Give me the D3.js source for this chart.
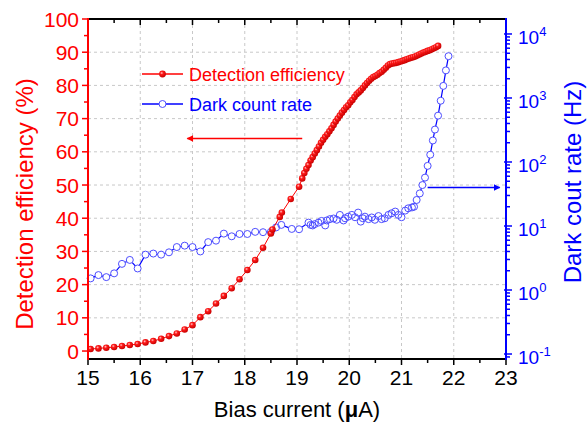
<!DOCTYPE html>
<html>
<head>
<meta charset="utf-8">
<script src="https://cdn.jsdelivr.net/npm/d3@7"></script>
<style>
  body { margin: 0; background: #fff; }
  svg { display: block; font-family: Arial, "Liberation Sans", sans-serif; }
</style>
</head>
<body>
<div id="chart"></div>
<script>
// detection efficiency (%) vs bias current (uA)
const biasDE = [15.05, 15.20, 15.35, 15.50, 15.65, 15.80, 15.95, 16.10, 16.25, 16.40,
    16.55, 16.70, 16.85, 17.00, 17.15, 17.30, 17.45, 17.60, 17.75, 17.90,
    18.05, 18.20, 18.35, 18.50, 18.53, 18.67, 18.71, 18.88, 19.04,
    19.10, 19.14, 19.18, 19.22, 19.26, 19.30, 19.34, 19.38, 19.42, 19.46,
    19.50, 19.54, 19.58, 19.62, 19.66, 19.70, 19.74, 19.78, 19.82, 19.86,
    19.90, 19.94, 19.98, 20.02, 20.06, 20.10, 20.14, 20.18, 20.22, 20.26,
    20.30, 20.34, 20.38, 20.42, 20.46, 20.50, 20.54, 20.58, 20.62, 20.66,
    20.70, 20.74, 20.78, 20.82, 20.86, 20.90, 20.94, 20.98, 21.02, 21.06,
    21.10, 21.14, 21.18, 21.22, 21.26, 21.30, 21.34, 21.38, 21.42, 21.46,
    21.50, 21.54, 21.58, 21.62, 21.66, 21.70];
const detEff = [0.6, 0.8, 1.0, 1.2, 1.5, 1.8, 2.1, 2.6, 3.0, 3.7,
    4.5, 5.3, 6.5, 7.8, 10.2, 12.0, 14.3, 16.6, 18.9, 21.6,
    24.4, 27.4, 31.1, 35.4, 36.6, 40.4, 41.7, 45.8, 49.5,
    52.0, 53.6, 54.9, 56.0, 57.4, 58.4, 59.5, 60.5, 61.6, 62.7,
    63.6, 64.5, 65.3, 66.2, 67.1, 68.1, 69.1, 70.0, 70.9, 71.8,
    72.6, 73.4, 74.0, 74.9, 75.6, 76.5, 77.3, 77.9, 78.5, 79.2,
    80.0, 80.7, 81.4, 82.0, 82.5, 82.8, 83.2, 83.7, 84.1, 84.7,
    85.3, 86.0, 86.4, 86.6, 86.7, 86.8, 87.0, 87.2, 87.4, 87.6,
    87.9, 88.1, 88.3, 88.5, 88.7, 89.0, 89.3, 89.6, 89.9, 90.1,
    90.4, 90.6, 90.9, 91.2, 91.5, 91.9];

// dark count rate (Hz) vs bias current (uA)
const biasDCR = [15.05, 15.20, 15.35, 15.50, 15.65, 15.80, 15.95, 16.10, 16.25, 16.40,
    16.55, 16.70, 16.85, 17.00, 17.15, 17.30, 17.45, 17.60, 17.75, 17.90,
    18.05, 18.20, 18.35, 18.50, 18.60, 18.70, 18.90, 19.04,
    19.22, 19.26, 19.30, 19.34, 19.41, 19.47, 19.54, 19.57, 19.63, 19.70,
    19.76, 19.82, 19.89, 19.92, 19.98, 20.05, 20.11, 20.17, 20.22, 20.26,
    20.30, 20.37, 20.43, 20.49, 20.56, 20.62, 20.68, 20.75, 20.81, 20.88,
    20.94, 21.00, 21.07, 21.13, 21.20, 21.24, 21.29,
    21.35, 21.40, 21.45, 21.50, 21.55, 21.60, 21.64, 21.70, 21.75, 21.80,
    21.85, 21.90];
const darkCount = [1.52, 1.71, 1.59, 1.82, 2.56, 2.95, 2.17, 3.57, 3.71, 3.57,
    3.88, 4.69, 4.93, 4.69, 4.0, 5.6, 5.9, 7.6, 6.9, 7.5,
    7.5, 8.1, 8.0, 8.1, 9.5, 10.4, 9.0, 8.9,
    11.3, 10.4, 10.2, 10.7, 11.3, 12.0, 10.2, 12.2, 12.8, 13.1,
    12.5, 14.9, 12.2, 13.2, 14.0, 14.9, 13.7, 16.2, 11.7, 13.2,
    14.0, 12.8, 13.6, 12.5, 14.3, 12.8, 13.2, 14.9, 15.8, 16.8,
    14.9, 13.7, 17.4, 18.9, 19.5, 20.0, 25.5,
    32.3, 43.6, 57, 87, 130, 217, 321, 530, 906, 1545,
    2700, 4500];

const biasTicks = [15, 16, 17, 18, 19, 20, 21, 22, 23];
const effTicks = [0, 10, 20, 30, 40, 50, 60, 70, 80, 90, 100];
const dcrTicks = [0.1, 1, 10, 100, 1000, 10000];
const dcrExponents = ["-1", "0", "1", "2", "3", "4"];

const width = 588, height = 425;
const pLeft = 88, pRight = 506, pTop = 19, pBottom = 359;
const red = "#ff0000", blue = "#0000ff", ringBlue = "#4d4dff";

const svg = d3.select("#chart").append("svg")
    .attr("width", width)
    .attr("height", height);

const x = d3.scaleLinear().domain([15, 23]).range([pLeft, pRight]);
const yL = d3.scaleLinear().domain([-2.4, 100]).range([pBottom, pTop]);
const yR = d3.scaleLog().domain([Math.pow(10, -1.078), Math.pow(10, 4.234)]).range([pBottom, pTop]);

// ball gradient for detection efficiency markers
const defs = svg.append("defs");
const grad = defs.append("radialGradient")
    .attr("id", "ball")
    .attr("cx", "38%").attr("cy", "35%").attr("r", "65%");
grad.append("stop").attr("offset", "0%").attr("stop-color", "#ffc8c8");
grad.append("stop").attr("offset", "35%").attr("stop-color", "#ff1a1a");
grad.append("stop").attr("offset", "100%").attr("stop-color", "#c80000");

function arrowHead(id, color) {
    defs.append("marker")
        .attr("id", id)
        .attr("viewBox", "0 0 10 10")
        .attr("refX", 9).attr("refY", 5)
        .attr("markerWidth", 5).attr("markerHeight", 4)
        .attr("markerUnits", "strokeWidth")
        .attr("orient", "auto")
        .append("path")
        .attr("d", "M0,0 L10,5 L0,10 Z")
        .attr("fill", color);
}
arrowHead("arrowRed", red);
arrowHead("arrowBlue", blue);

// grid
svg.append("g").selectAll("line")
    .data(biasTicks.slice(1, -1))
    .join("line")
    .attr("x1", d => x(d)).attr("x2", d => x(d))
    .attr("y1", pTop).attr("y2", pBottom)
    .attr("stroke", "#c8c8c8").attr("stroke-dasharray", "3,3");
svg.append("g").selectAll("line")
    .data(effTicks.slice(1, -1))
    .join("line")
    .attr("x1", pLeft).attr("x2", pRight)
    .attr("y1", d => yL(d)).attr("y2", d => yL(d))
    .attr("stroke", "#c8c8c8").attr("stroke-dasharray", "3,3");

// dark count rate series
const dcrData = biasDCR.map((b, i) => [b, darkCount[i]]);
svg.append("path")
    .datum(dcrData)
    .attr("fill", "none")
    .attr("stroke", blue)
    .attr("stroke-width", 1.2)
    .attr("d", d3.line().x(d => x(d[0])).y(d => yR(d[1])));
svg.append("g").selectAll("circle")
    .data(dcrData)
    .join("circle")
    .attr("cx", d => x(d[0])).attr("cy", d => yR(d[1]))
    .attr("r", 3.5)
    .attr("fill", "#fff");
svg.append("g").selectAll("circle")
    .data(dcrData)
    .join("circle")
    .attr("cx", d => x(d[0])).attr("cy", d => yR(d[1]))
    .attr("r", 3.5)
    .attr("fill", "none")
    .attr("stroke", ringBlue)
    .attr("stroke-width", 1);

// detection efficiency series
const deData = biasDE.map((b, i) => [b, detEff[i]]);
svg.append("path")
    .datum(deData)
    .attr("fill", "none")
    .attr("stroke", red)
    .attr("stroke-width", 1)
    .attr("d", d3.line().x(d => x(d[0])).y(d => yL(d[1])));
svg.append("g").selectAll("circle")
    .data(deData)
    .join("circle")
    .attr("cx", d => x(d[0])).attr("cy", d => yL(d[1]))
    .attr("r", 3.3)
    .attr("fill", "url(#ball)");

// axes frame
const minorBias = d3.range(15.5, 23, 1);
const minorEff = d3.range(5, 100, 10);
const minorDcr = [];
for (let e = -2; e <= 4; e++) {
    for (let k = 2; k <= 9; k++) {
        const v = k * Math.pow(10, e);
        if (v > yR.domain()[0] && v < yR.domain()[1]) minorDcr.push(v);
    }
}

function ticks(g, scale, data, pos, len, color, vertical) {
    g.append("g").selectAll("line")
        .data(data)
        .join("line")
        .attr("x1", d => vertical ? pos : scale(d))
        .attr("x2", d => vertical ? pos + len : scale(d))
        .attr("y1", d => vertical ? scale(d) : pos)
        .attr("y2", d => vertical ? scale(d) : pos + len)
        .attr("stroke", color)
        .attr("stroke-width", 1.5);
}

// bottom
const gB = svg.append("g");
ticks(gB, x, biasTicks, pBottom, 6, "#000", false);
ticks(gB, x, minorBias, pBottom, 4, "#000", false);
gB.append("line").attr("x1", pLeft - 1).attr("x2", pRight + 1)
    .attr("y1", pBottom).attr("y2", pBottom)
    .attr("stroke", "#000").attr("stroke-width", 2);
gB.append("g").selectAll("text")
    .data(biasTicks)
    .join("text")
    .attr("x", d => x(d)).attr("y", pBottom + 26)
    .attr("text-anchor", "middle")
    .attr("font-size", 21)
    .attr("fill", "#000")
    .text(d => d);

// top
const gT = svg.append("g");
ticks(gT, x, biasTicks, pTop, 6, "#000", false);
ticks(gT, x, minorBias, pTop, 4, "#000", false);
gT.append("line").attr("x1", pLeft - 1).attr("x2", pRight + 1)
    .attr("y1", pTop).attr("y2", pTop)
    .attr("stroke", "#000").attr("stroke-width", 2);

// left
const gL = svg.append("g");
ticks(gL, yL, effTicks, pLeft, -6, red, true);
ticks(gL, yL, minorEff, pLeft, -4, red, true);
gL.append("line").attr("x1", pLeft).attr("x2", pLeft)
    .attr("y1", pTop - 1).attr("y2", pBottom + 1)
    .attr("stroke", red).attr("stroke-width", 2);
gL.append("g").selectAll("text")
    .data(effTicks)
    .join("text")
    .attr("x", pLeft - 9).attr("y", d => yL(d) + 7.5)
    .attr("text-anchor", "end")
    .attr("font-size", 21)
    .attr("fill", red)
    .text(d => d);

// right
const gR = svg.append("g");
ticks(gR, yR, dcrTicks, pRight - 2, 8, blue, true);
ticks(gR, yR, minorDcr, pRight, 4, blue, true);
gR.append("line").attr("x1", pRight).attr("x2", pRight)
    .attr("y1", pTop - 1).attr("y2", pBottom + 1)
    .attr("stroke", blue).attr("stroke-width", 2);
const rLabels = gR.append("g").selectAll("text")
    .data(dcrTicks)
    .join("text")
    .attr("x", pRight + 12).attr("y", d => yR(d) + 10)
    .attr("font-size", 19)
    .attr("fill", blue);
rLabels.append("tspan").text("10");
rLabels.append("tspan")
    .attr("font-size", 13)
    .attr("dy", -8)
    .text((d, i) => dcrExponents[i]);

// axis titles
svg.append("text")
    .attr("transform", `translate(33,${(pTop + pBottom) / 2 + 15}) rotate(-90)`)
    .attr("text-anchor", "middle")
    .attr("font-size", 24)
    .attr("fill", red)
    .text("Detection efficiency (%)");
svg.append("text")
    .attr("transform", "translate(581,182) rotate(-90)")
    .attr("text-anchor", "middle")
    .attr("font-size", 24)
    .attr("fill", blue)
    .text("Dark cout rate (Hz)");
const xTitle = svg.append("text")
    .attr("x", (pLeft + pRight) / 2)
    .attr("y", 417)
    .attr("text-anchor", "middle")
    .attr("font-size", 22)
    .attr("fill", "#000");
xTitle.append("tspan").text("Bias current (");
xTitle.append("tspan").attr("font-weight", "bold").text("\u03bc");
xTitle.append("tspan").text("A)");

// legend
const legend = svg.append("g");
legend.append("line").attr("x1", 142).attr("x2", 183).attr("y1", 74).attr("y2", 74)
    .attr("stroke", red).attr("stroke-width", 1.5);
legend.append("circle").attr("cx", 162.5).attr("cy", 74).attr("r", 3.4).attr("fill", "url(#ball)");
legend.append("text").attr("x", 189).attr("y", 80.5)
    .attr("font-size", 18).attr("fill", red).text("Detection efficiency");
legend.append("line").attr("x1", 142).attr("x2", 183).attr("y1", 104).attr("y2", 104)
    .attr("stroke", blue).attr("stroke-width", 1.5);
legend.append("circle").attr("cx", 162.5).attr("cy", 104).attr("r", 3.5)
    .attr("fill", "#fff").attr("stroke", ringBlue);
legend.append("text").attr("x", 189).attr("y", 110.5)
    .attr("font-size", 18).attr("fill", blue).text("Dark count rate");

// arrows pointing to the axes
svg.append("line")
    .attr("x1", x(19.1)).attr("x2", x(16.9))
    .attr("y1", yL(64)).attr("y2", yL(64))
    .attr("stroke", red).attr("stroke-width", 1.6)
    .attr("marker-end", "url(#arrowRed)");
svg.append("line")
    .attr("x1", x(21.5)).attr("x2", x(22.88))
    .attr("y1", yR(40)).attr("y2", yR(40))
    .attr("stroke", blue).attr("stroke-width", 1.6)
    .attr("marker-end", "url(#arrowBlue)");
</script>
</body>
</html>
